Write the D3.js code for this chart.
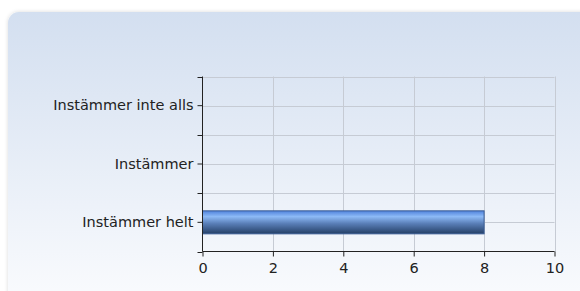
<!DOCTYPE html>
<html>
  <head>
    <meta charset="UTF-8">
    <title>Instämmer</title>
    <script src="https://cdn.jsdelivr.net/npm/d3@7"></script>
    <style>
      body { margin: 0; background: #fff; font-family: "DejaVu Sans", Verdana, sans-serif; }
      svg  { display: block; }
    </style>
  </head>
  <body>
    <script>
      // chart data
      var categories = ["Instämmer inte alls", "Instämmer", "Instämmer helt"];
      var values = [0, 0, 8];
      var xTicks = [0, 2, 4, 6, 8, 10];

      var width = 580, height = 291;
      var svg = d3.select("body").append("svg")
        .attr("width", width)
        .attr("height", height);

      var defs = svg.append("defs");

      // panel background gradient
      var bg = defs.append("linearGradient").attr("id", "bg")
        .attr("x1", 0).attr("y1", 0).attr("x2", 0).attr("y2", 1);
      bg.append("stop").attr("offset", "0%").attr("stop-color", "#d3dff0");
      bg.append("stop").attr("offset", "100%").attr("stop-color", "#fbfcfe");

      // bar gradient
      var barGrad = defs.append("linearGradient").attr("id", "bar")
        .attr("x1", 0).attr("y1", 0).attr("x2", 0).attr("y2", 1);
      barGrad.append("stop").attr("offset", "0%").attr("stop-color", "#4f82dc");
      barGrad.append("stop").attr("offset", "25%").attr("stop-color", "#8dbaf6");
      barGrad.append("stop").attr("offset", "55%").attr("stop-color", "#5a7fb8");
      barGrad.append("stop").attr("offset", "100%").attr("stop-color", "#243f66");

      var shadow = defs.append("filter").attr("id", "shadow")
        .attr("x", "-5%").attr("y", "-5%").attr("width", "110%").attr("height", "110%");
      shadow.append("feGaussianBlur").attr("in", "SourceAlpha").attr("stdDeviation", 2);
      shadow.append("feOffset").attr("dx", 0).attr("dy", 0).attr("result", "blur");
      shadow.append("feComponentTransfer").append("feFuncA").attr("type", "linear").attr("slope", 0.15);
      var merge = shadow.append("feMerge");
      merge.append("feMergeNode");
      merge.append("feMergeNode").attr("in", "SourceGraphic");

      // panel
      svg.append("rect")
        .attr("x", 8)
        .attr("y", 12)
        .attr("width", 600)
        .attr("height", 300)
        .attr("rx", 11)
        .style("fill", "url(#bg)")
        .style("filter", "url(#shadow)");

      var margin = { left: 202.5, top: 76.5, right: 554.5, bottom: 251.5 };

      var x = d3.scaleLinear()
        .domain([0, 10])
        .range([margin.left, margin.right]);

      var y = d3.scaleBand()
        .domain(categories)
        .range([margin.top, margin.bottom]);

      var grid = svg.append("g");

      // vertical grid
      grid.selectAll(".vgrid")
        .data(xTicks.slice(1))
        .enter().append("line")
        .attr("x1", function (d) { return Math.round(x(d)) + 0.5; })
        .attr("x2", function (d) { return Math.round(x(d)) + 0.5; })
        .attr("y1", margin.top)
        .attr("y2", margin.bottom)
        .style("stroke", "#c6cbd4")
        .style("stroke-width", 1);

      // horizontal grid: band edges and centres
      var hLines = [];
      categories.forEach(function (c) {
        hLines.push(y(c));
        hLines.push(y(c) + y.bandwidth() / 2);
      });
      grid.selectAll(".hgrid")
        .data(hLines)
        .enter().append("line")
        .attr("x1", margin.left)
        .attr("x2", margin.right)
        .attr("y1", function (d) { return Math.round(d) + 0.5; })
        .attr("y2", function (d) { return Math.round(d) + 0.5; })
        .style("stroke", "#c6cbd4")
        .style("stroke-width", 1);

      // bars
      svg.selectAll(".bar")
        .data(values)
        .enter().append("rect")
        .filter(function (d) { return d > 0; })
        .attr("x", x(0))
        .attr("y", function (d, i) { return y(categories[values.indexOf(d)]) + y.bandwidth() / 2 - 11.5; })
        .attr("width", function (d) { return x(d) - x(0); })
        .attr("height", 23)
        .style("fill", "url(#bar)")
        .style("stroke", "#3a5c94")
        .style("stroke-width", 1);

      // x axis
      var xAxis = svg.append("g")
        .attr("transform", "translate(0," + margin.bottom + ")")
        .call(d3.axisBottom(x).tickValues(xTicks).tickSize(5).tickPadding(6));
      xAxis.select(".domain").attr("d", "M" + margin.left + ",0H" + margin.right).style("stroke", "#222");
      xAxis.selectAll(".tick line").style("stroke", "#222");
      xAxis.selectAll("text")
        .style("font-family", "DejaVu Sans, Verdana, sans-serif")
        .style("font-size", "14.5px")
        .style("fill", "#222");

      // y axis
      var yAxis = svg.append("g")
        .attr("transform", "translate(" + margin.left + ",0)")
        .call(d3.axisLeft(y).tickSize(5).tickPadding(4));
      yAxis.select(".domain").attr("d", "M0," + margin.top + "V" + margin.bottom).style("stroke", "#222");
      yAxis.selectAll(".tick line").style("stroke", "#222");
      yAxis.selectAll("text")
        .style("font-family", "DejaVu Sans, Verdana, sans-serif")
        .style("font-size", "14.5px")
        .style("fill", "#222");

      // ticks on band edges
      yAxis.selectAll(".edge")
        .data(hLines.filter(function (d, i) { return i % 2 === 0; }).concat([margin.bottom]))
        .enter().append("line")
        .attr("x1", -5)
        .attr("x2", 0)
        .attr("y1", function (d) { return Math.round(d) + 0.5; })
        .attr("y2", function (d) { return Math.round(d) + 0.5; })
        .style("stroke", "#222");
    </script>
  </body>
</html>
